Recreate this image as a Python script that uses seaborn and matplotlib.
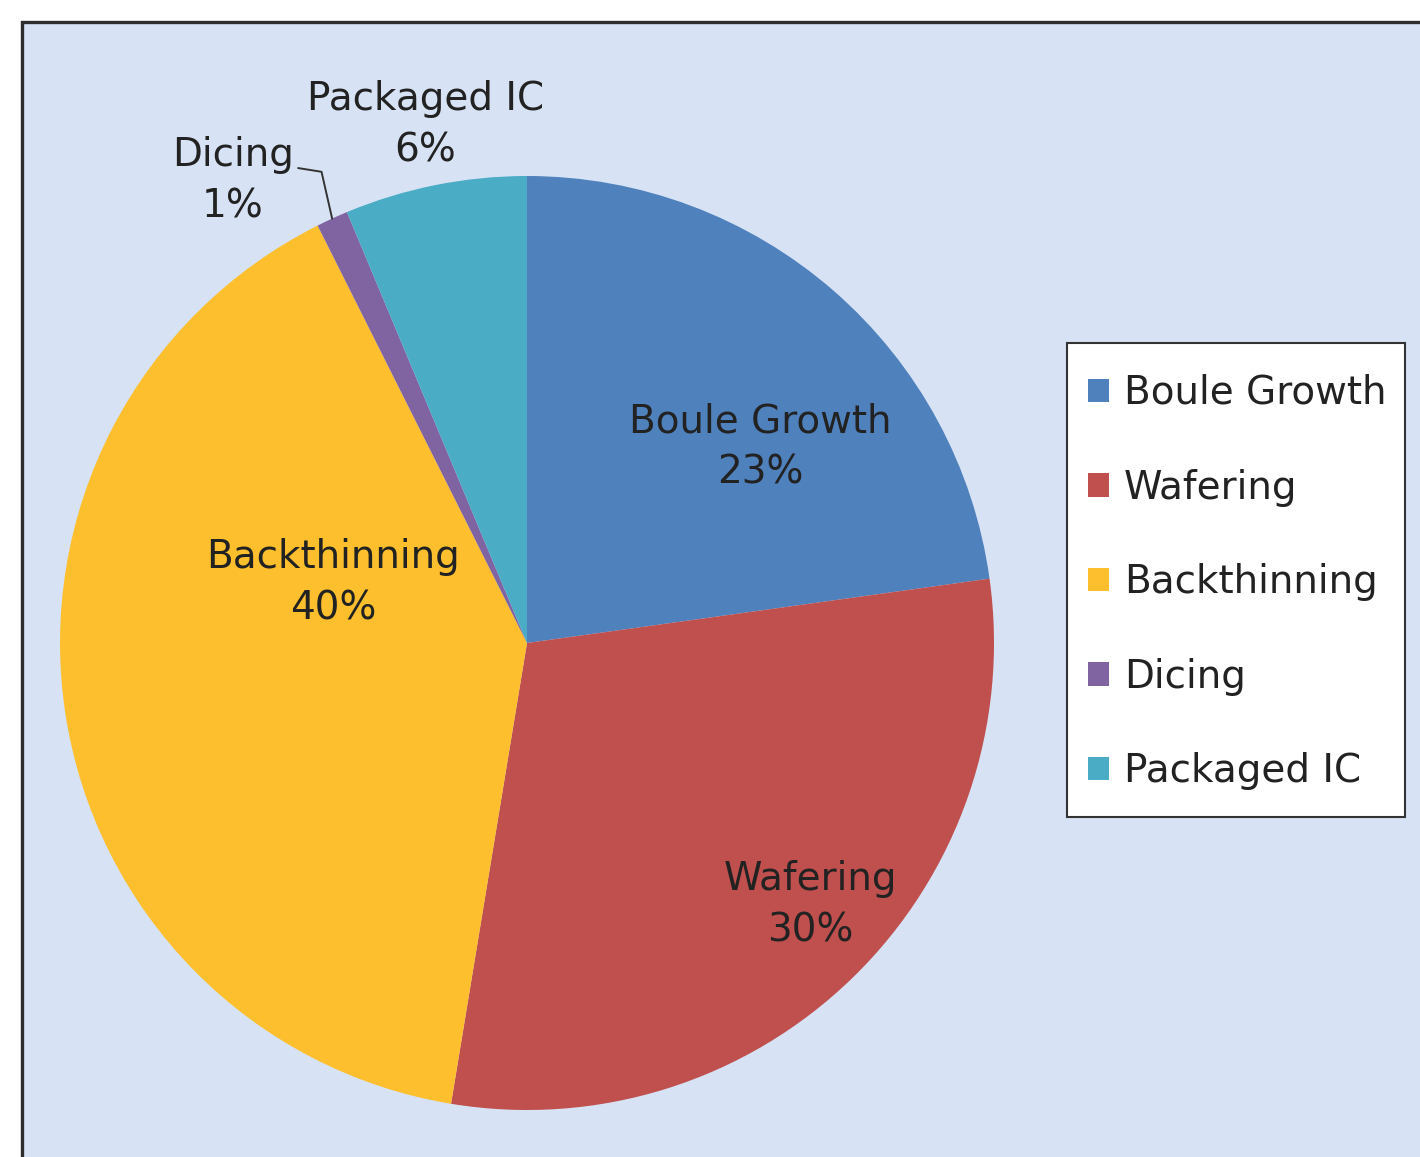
import matplotlib
matplotlib.use("Agg")
import matplotlib.pyplot as plt
from matplotlib.patches import Rectangle
import numpy as np
import seaborn as sns

sns.set_theme(style="white")
plt.rcParams['font.family'] = ['DejaVu Sans']

categories = ["Boule Growth", "Wafering", "Backthinning", "Dicing", "Packaged IC"]
values = [22.8, 29.8, 40.0, 1.1, 6.3]
pct_labels = ["23%", "30%", "40%", "1%", "6%"]
colors = ["#4F81BD", "#C0504D", "#FDBF2D", "#8064A2", "#4BACC6"]

W, H = 1420, 1157
fig = plt.figure(figsize=(W / 100, H / 100), dpi=100)
fig.patch.set_facecolor("white")

# chart-area frame
frame = Rectangle((22 / W, -0.05), 1.2, 1 - 22 / H + 0.05,
                  transform=fig.transFigure, facecolor="#D7E3F4",
                  edgecolor="#2E2E2E", linewidth=2.4, zorder=-10)
fig.patches.append(frame)

# legend box
lbox = Rectangle((1067 / W, 1 - 817 / H), 338 / W, 474 / H,
                 transform=fig.transFigure, facecolor="white",
                 edgecolor="#333333", linewidth=1.5, zorder=-5)
fig.patches.append(lbox)

cx, cy, r = 527, 643, 467
ax = fig.add_axes([(cx - r) / W, (H - cy - r) / H, 2 * r / W, 2 * r / H])
ax.set_facecolor("none")
ax.patch.set_alpha(0)
wedges, _ = ax.pie(values, colors=colors, startangle=90, counterclock=False,
                   radius=1.0, wedgeprops=dict(linewidth=0))
ax.set_xlim(-1, 1)
ax.set_ylim(-1, 1)
ax.set_aspect("auto")
ax.axis("off")

txt_color = "#222222"
fs = 28
label_pos = [(0.50, 0.42), (0.606, -0.56), (-0.415, 0.13), (-0.63, 0.99), (-0.218, 1.11)]
for name, pct, (x, y) in zip(categories, pct_labels, label_pos):
    ax.text(x, y, f"{name}\n{pct}", ha="center", va="center", fontsize=fs,
            color=txt_color, linespacing=1.45, clip_on=False)

# leader line for Dicing
w = wedges[3]
mid = np.deg2rad((w.theta1 + w.theta2) / 2)
ex, ey = np.cos(mid), np.sin(mid)
ax.plot([-0.49, -0.44, ex], [1.017, 1.009, ey], color="#333333", lw=1.4,
        clip_on=False)

leg = fig.legend(wedges, categories, loc="upper left",
                 bbox_to_anchor=(1088 / W, 1 - 374 / H),
                 frameon=False, fontsize=fs,
                 handlelength=0.55, handleheight=0.55, handletextpad=0.38,
                 labelspacing=1.455, borderpad=0, borderaxespad=0)
for t in leg.get_texts():
    t.set_color(txt_color)

fig.savefig("out.png", dpi=100)
